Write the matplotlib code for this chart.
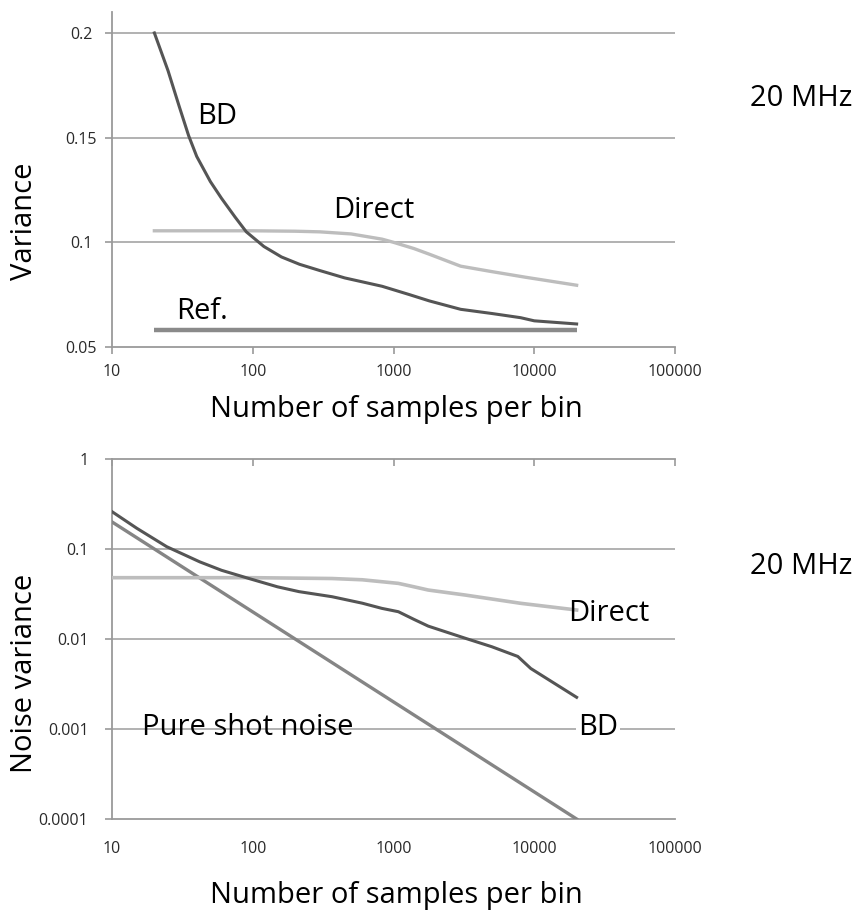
import matplotlib
matplotlib.use("Agg")
import matplotlib.pyplot as plt
from matplotlib.ticker import FixedLocator, FixedFormatter, NullLocator

plt.rcParams['font.family'] = ['Open Sans', 'DejaVu Sans']

# ---- data: variance vs. samples per bin (20 MHz) ----
bd_top_x = [20, 25, 30, 35, 40, 50, 60, 75, 90, 120, 160, 215, 300, 450, 830,
            1300, 1800, 3000, 5000, 8000, 10000, 20000]
bd_top_y = [0.200, 0.182, 0.165, 0.151, 0.141, 0.129, 0.121, 0.112, 0.105, 0.098,
            0.093, 0.0895, 0.0865, 0.083, 0.079, 0.075, 0.072, 0.068, 0.066, 0.064,
            0.0625, 0.061]

direct_top_x = [20, 100, 200, 300, 500, 830, 1000, 1400, 1800, 3000, 5000, 8700, 20000]
direct_top_y = [0.1055, 0.1055, 0.1053, 0.105, 0.104, 0.1015, 0.100, 0.097, 0.0943,
                0.0886, 0.086, 0.0833, 0.0795]

ref_x = [20, 20000]
ref_y = [0.058, 0.058]

# ---- data: noise variance vs. samples per bin (20 MHz) ----
bd_bot_x = [10, 15, 24.5, 42, 60, 94, 150, 213, 366, 600, 826, 1083, 1400, 1766,
            3230, 5000, 7640, 9450, 20000]
bd_bot_y = [0.26, 0.17, 0.106, 0.072, 0.058, 0.047, 0.038, 0.0336, 0.0295, 0.025,
            0.0219, 0.0201, 0.0165, 0.0139, 0.0102, 0.0082, 0.0064, 0.0047, 0.00225]

direct_bot_x = [10, 100, 366, 600, 826, 1083, 1400, 1766, 3230, 8040, 20000]
direct_bot_y = [0.048, 0.048, 0.047, 0.0455, 0.0433, 0.0415, 0.038, 0.035, 0.0308,
                0.0249, 0.021]

shot_x = [10, 20000]
shot_y = [0.2, 0.0001]

x_ticks = [10, 100, 1000, 10000, 100000]
x_labels = ['10', '100', '1000', '10000', '100000']
top_y_ticks = [0.05, 0.1, 0.15, 0.2]
top_y_labels = ['0.05', '0.1', '0.15', '0.2']
bot_y_ticks = [0.0001, 0.001, 0.01, 0.1, 1]
bot_y_labels = ['0.0001', '0.001', '0.01', '0.1', '1']

GRID = '#ababab'
AXIS = '#9a9a9a'
C_BD = '#555555'
C_DIRECT = '#bdbdbd'
C_REF = '#8a8a8a'
C_SHOT = '#858585'
TICK_TXT = '#2a2a2a'
FS = 21
TFS = 11.5

W, H = 856, 911
fig = plt.figure(figsize=(W / 100, H / 100), dpi=100)


def fx(px):
    return px / W


def fy(py):
    return 1 - py / H


# ---------------- top panel ----------------
ax1 = fig.add_axes([fx(112), fy(347), fx(675) - fx(112), fy(12) - fy(347)])
ax1.set_xscale('log')
ax1.set_xlim(10, 100000)
ax1.set_ylim(0.05, 0.21)
for y in [0.1, 0.15, 0.2]:
    ax1.plot([10, 100000], [y, y], color=GRID, lw=1.3, zorder=1, solid_capstyle='butt')

ax1.plot(ref_x, ref_y, color=C_REF, lw=3.2, zorder=3, solid_capstyle='butt')
ax1.plot(direct_top_x, direct_top_y, color=C_DIRECT, lw=2.4, zorder=3)
ax1.plot(bd_top_x, bd_top_y, color=C_BD, lw=2.2, zorder=4)

ax1.xaxis.set_major_locator(FixedLocator(x_ticks))
ax1.xaxis.set_major_formatter(FixedFormatter(x_labels))
ax1.xaxis.set_minor_locator(NullLocator())
ax1.yaxis.set_major_locator(FixedLocator(top_y_ticks))
ax1.yaxis.set_major_formatter(FixedFormatter(top_y_labels))
ax1.yaxis.set_minor_locator(NullLocator())
ax1.tick_params(axis='x', direction='out', length=5, width=1.2, color=AXIS,
                labelsize=TFS, labelcolor=TICK_TXT, pad=7)
ax1.tick_params(axis='y', direction='out', length=5, width=1.2, color=AXIS,
                labelsize=TFS, labelcolor=TICK_TXT, pad=17)
for lab in ax1.get_yticklabels():
    lab.set_horizontalalignment('center')
for s in ['top', 'right']:
    ax1.spines[s].set_visible(False)
for s in ['left', 'bottom']:
    ax1.spines[s].set_color(AXIS)
    ax1.spines[s].set_linewidth(1.3)

ax1.text(56, 0.16, 'BD', fontsize=FS, ha='center', va='center')
ax1.text(721, 0.1152, 'Direct', fontsize=FS, ha='center', va='center')
ax1.text(43.5, 0.0671, 'Ref.', fontsize=FS, ha='center', va='center')

# ---------------- bottom panel ----------------
ax2 = fig.add_axes([fx(112), fy(819), fx(675) - fx(112), fy(459) - fy(819)])
ax2.set_xscale('log')
ax2.set_yscale('log')
ax2.set_xlim(10, 100000)
ax2.set_ylim(0.0001, 1)
for y in [0.001, 0.01, 0.1]:
    ax2.plot([10, 100000], [y, y], color=GRID, lw=1.3, zorder=1, solid_capstyle='butt')

ax2.plot(shot_x, shot_y, color=C_SHOT, lw=2.4, zorder=3)
ax2.plot(direct_bot_x, direct_bot_y, color=C_DIRECT, lw=2.6, zorder=3)
ax2.plot(bd_bot_x, bd_bot_y, color=C_BD, lw=2.2, zorder=4)

ax2.xaxis.set_major_locator(FixedLocator(x_ticks))
ax2.xaxis.set_major_formatter(FixedFormatter(x_labels))
ax2.xaxis.set_minor_locator(NullLocator())
ax2.yaxis.set_major_locator(FixedLocator(bot_y_ticks))
ax2.yaxis.set_major_formatter(FixedFormatter(bot_y_labels))
ax2.yaxis.set_minor_locator(NullLocator())
ax2.tick_params(axis='x', which='major', bottom=False, top=True, labelbottom=True,
                direction='in', length=5, width=1.2, color=AXIS,
                labelsize=TFS, labelcolor=TICK_TXT, pad=16)
ax2.tick_params(axis='y', direction='out', length=5, width=1.2, color=AXIS,
                labelsize=TFS, labelcolor=TICK_TXT, pad=12)
ax2.spines['right'].set_visible(False)
for s in ['left', 'top', 'bottom']:
    ax2.spines[s].set_color(AXIS)
    ax2.spines[s].set_linewidth(1.3)

ax2.text(33970, 0.019, 'Direct', fontsize=FS, ha='center', va='center', zorder=5)
ax2.text(28380, 0.00103, 'BD', fontsize=FS, ha='center', va='center', zorder=5,
         bbox=dict(facecolor='white', edgecolor='none', pad=1.5))
ax2.text(91.8, 0.00103, 'Pure shot noise', fontsize=FS, ha='center', va='center', zorder=5)

# ---------------- figure texts ----------------
fig.text(fx(801), fy(98), '20 MHz', fontsize=FS, ha='center', va='center')
fig.text(fx(801), fy(567), '20 MHz', fontsize=FS, ha='center', va='center')
fig.text(fx(25), fy(221), 'Variance', fontsize=FS, rotation=90, ha='center', va='center')
fig.text(fx(25), fy(673), 'Noise variance', fontsize=FS, rotation=90, ha='center', va='center')
fig.text(fx(396), fy(410), 'Number of samples per bin', fontsize=FS, ha='center', va='center')
fig.text(fx(396), fy(895), 'Number of samples per bin', fontsize=FS, ha='center', va='center')

fig.savefig('out.png', dpi=100, facecolor='white')
